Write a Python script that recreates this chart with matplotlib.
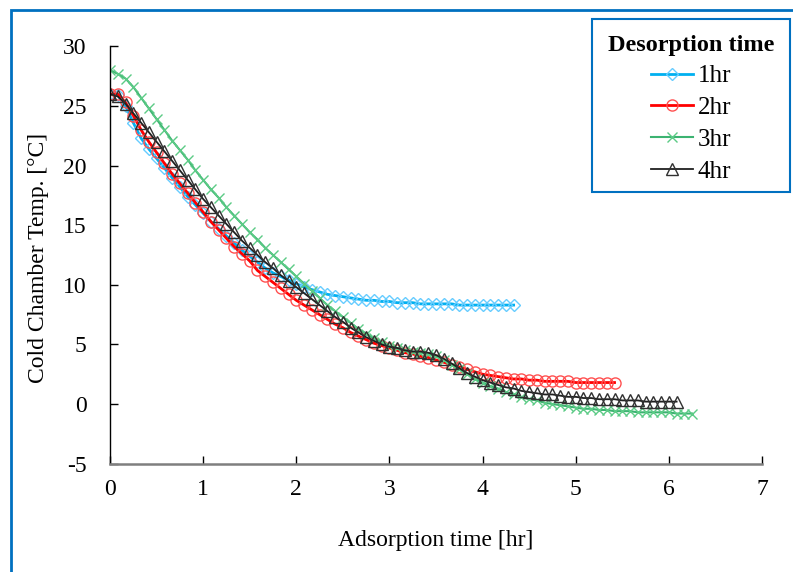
import numpy as np
import matplotlib
matplotlib.use("Agg")
import matplotlib.pyplot as plt
from matplotlib.patches import Rectangle

# sampling interval of the logged data (minutes)
STEP_MIN = 5

temp_1hr = [26.0, 25.9, 25.0, 23.6, 22.3, 21.4, 20.6, 19.8, 19.0, 18.2, 17.4, 16.7,
            16.0, 15.3, 14.7, 14.1, 13.5, 12.9, 12.4, 11.9, 11.4, 11.0, 10.7, 10.4,
            10.1, 9.8, 9.6, 9.4, 9.2, 9.1, 9.0, 8.9, 8.8, 8.7, 8.7, 8.6,
            8.6, 8.5, 8.5, 8.5, 8.4, 8.4, 8.4, 8.4, 8.4, 8.3, 8.3, 8.3,
            8.3, 8.3, 8.3, 8.3, 8.3]

temp_2hr = [26.0, 26.0, 25.3, 24.2, 23.0, 22.0, 21.1, 20.2, 19.3, 18.5, 17.7, 16.9,
            16.1, 15.3, 14.6, 13.9, 13.2, 12.6, 12.0, 11.2, 10.7, 10.2, 9.7, 9.2,
            8.7, 8.3, 7.9, 7.5, 7.1, 6.7, 6.4, 6.0, 5.7, 5.4, 5.1, 4.9,
            4.7, 4.5, 4.3, 4.2, 4.0, 3.9, 3.7, 3.5, 3.3, 3.1, 2.9, 2.7,
            2.5, 2.4, 2.3, 2.2, 2.1, 2.1, 2.0, 2.0, 1.9, 1.9, 1.9, 1.9,
            1.8, 1.8, 1.8, 1.8, 1.8, 1.8]

temp_3hr = [28.0, 27.7, 27.3, 26.6, 25.7, 24.8, 23.9, 23.0, 22.1, 21.3, 20.5, 19.6,
            18.8, 18.0, 17.3, 16.5, 15.8, 15.1, 14.4, 13.8, 13.1, 12.5, 11.9, 11.3,
            10.7, 10.1, 9.5, 8.9, 8.3, 7.8, 7.3, 6.8, 6.3, 5.9, 5.5, 5.2,
            4.9, 4.7, 4.5, 4.4, 4.3, 4.2, 4.0, 3.7, 3.3, 2.9, 2.5, 2.1,
            1.8, 1.5, 1.3, 1.0, 0.8, 0.6, 0.4, 0.3, 0.1, 0.0, -0.1, -0.2,
            -0.3, -0.4, -0.4, -0.5, -0.5, -0.6, -0.6, -0.6, -0.7, -0.7, -0.7, -0.7,
            -0.7, -0.8, -0.8, -0.8]

temp_4hr = [26.0, 25.8, 25.2, 24.4, 23.6, 22.8, 22.0, 21.2, 20.4, 19.6, 18.8, 18.0,
            17.2, 16.5, 15.8, 15.1, 14.4, 13.7, 13.1, 12.5, 11.9, 11.4, 10.8, 10.3,
            9.8, 9.3, 8.8, 8.3, 7.8, 7.3, 6.9, 6.4, 6.0, 5.6, 5.3, 5.0,
            4.8, 4.7, 4.5, 4.4, 4.4, 4.3, 4.1, 3.8, 3.4, 3.0, 2.6, 2.3,
            2.0, 1.8, 1.6, 1.4, 1.3, 1.1, 1.0, 0.9, 0.8, 0.8, 0.7, 0.6,
            0.6, 0.5, 0.5, 0.4, 0.4, 0.4, 0.3, 0.3, 0.3, 0.2, 0.2, 0.2,
            0.2, 0.2]

series_labels = ["1hr", "2hr", "3hr", "4hr"]
x_ticks = [0, 1, 2, 3, 4, 5, 6, 7]
y_ticks = [-5, 0, 5, 10, 15, 20, 25, 30]

def hours(vals):
    return np.arange(len(vals)) * STEP_MIN / 60.0

plt.rcParams['font.family'] = ['Liberation Serif', 'DejaVu Serif']

W, H = 793, 572
fig = plt.figure(figsize=(W / 100, H / 100), dpi=100)
ax = fig.add_axes([110 / W, 1 - 463.6 / H, (762 - 110) / W, (463.6 - 46.4) / H])

styles = [
    dict(color='#00B0F0', marker='D', ms=6.0, mec='#66CCFF', mfc='none', mew=1.0, lw=2.0),
    dict(color='#FF0000', marker='o', ms=8.0, mec='#FF5050', mfc='none', mew=1.0, lw=2.0),
    dict(color='#3CB371', marker='x', ms=7.0, mec='#5CCB86', mew=1.0, lw=1.5),
    dict(color='#202020', marker='^', ms=8.0, mec='#303030', mfc='none', mew=1.0, lw=1.3),
]
for vals, lab, st in zip([temp_1hr, temp_2hr, temp_3hr, temp_4hr], series_labels, styles):
    ax.plot(hours(vals), vals, label=lab, **st)

ax.set_xlim(0, 7)
ax.set_ylim(-5, 30)
ax.set_xticks(x_ticks)
ax.set_yticks(y_ticks)
ax.set_xticklabels([str(v) for v in x_ticks])
ax.set_yticklabels([str(v) for v in y_ticks])
for s in ['top', 'right']:
    ax.spines[s].set_visible(False)
ax.spines['left'].set_color('#000000')
ax.spines['left'].set_linewidth(1.0)
ax.spines['bottom'].set_color('#7F7F7F')
ax.spines['bottom'].set_linewidth(1.8)
ax.tick_params(axis='both', direction='in', length=6, width=1.0, labelsize=17, colors='#000000')
ax.tick_params(axis='x', pad=11)
ax.tick_params(axis='y', pad=17)

ax.set_xlabel("Adsorption time [hr]", fontsize=17)
ax.set_ylabel("Cold Chamber Temp. [°C]", fontsize=17)
ax.xaxis.set_label_coords((436 - 110) / (762 - 110), -(530 - 463.6) / (463.6 - 46.4))
ax.yaxis.set_label_coords(-(110 - 49) / (762 - 110), (463.6 - 258) / (463.6 - 46.4))

leg = ax.legend(loc='upper center', bbox_to_anchor=(691 / W, 1 - 17 / H),
                bbox_transform=fig.transFigure, frameon=False,
                title="Desorption time", alignment='center',
                fontsize=18, handlelength=1.7, handletextpad=0.2, labelspacing=0.37,
                borderpad=0.2)
leg.get_title().set_fontweight('bold')
leg.get_title().set_fontsize(17.5)

# legend box and outer frame
fig.patches.append(Rectangle((592 / W, 1 - 192 / H), (790 - 592) / W, (192 - 19) / H,
                             transform=fig.transFigure, fill=False, ec='#0070C0', lw=1.5))
fig.patches.append(Rectangle((11 / W, -0.1), 1.2, 1 - 10 / H + 0.1,
                             transform=fig.transFigure, fill=False, ec='#0070C0', lw=2.0))

fig.savefig("out.png", dpi=100)
